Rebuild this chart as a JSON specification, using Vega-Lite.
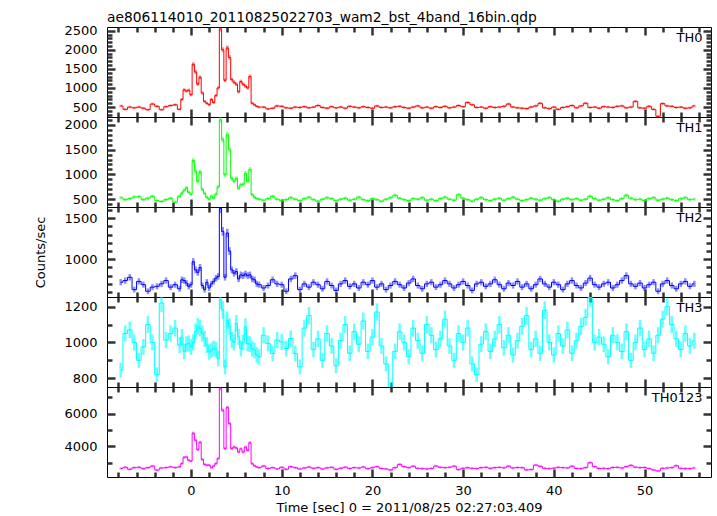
{
"$schema": "https://vega.github.io/schema/vega-lite/v6.json",
"padding": {"left": 34, "top": 10, "right": 0, "bottom": 0},
"spacing": 0,
"bounds": "flush",
"resolve": {"scale": {"size": "independent"}},
"config": {
 "view": {"stroke": "black", "strokeWidth": 1},
 "font": "DejaVu Sans",
 "axis": {"domain": false, "grid": false, "ticks": true, "tickOpacity": 1, "tickColor": "#333333", "tickWidth": 2.5, "labelFont": "DejaVu Sans", "labelFontSize": 13, "labelColor": "black", "titleFont": "DejaVu Sans", "titleFontSize": 13, "titleFontWeight": "normal", "titleColor": "black", "labelFlush": false, "labelOverlap": false, "format": "d"}
},
"datasets": {"lc": [
{"t":-7.75,"a":530,"b":530,"c":720,"d":845,"s":2650},
{"t":-7.25,"a":440,"b":490,"c":740,"d":1050,"s":2720},
{"t":-6.75,"a":500,"b":510,"c":780,"d":1070,"s":2600},
{"t":-6.25,"a":480,"b":545,"c":630,"d":1000,"s":2700},
{"t":-5.75,"a":500,"b":550,"c":730,"d":900,"s":2720},
{"t":-5.25,"a":470,"b":490,"c":690,"d":975,"s":2640},
{"t":-4.75,"a":430,"b":520,"c":610,"d":1100,"s":2700},
{"t":-4.25,"a":580,"b":560,"c":660,"d":1000,"s":2800},
{"t":-3.75,"a":520,"b":470,"c":670,"d":820,"s":2550},
{"t":-3.25,"a":430,"b":455,"c":700,"d":1220,"s":2680},
{"t":-2.75,"a":510,"b":490,"c":740,"d":1013,"s":2700},
{"t":-2.25,"a":540,"b":520,"c":660,"d":1050,"s":2750},
{"t":-1.75,"a":560,"b":440,"c":690,"d":1080,"s":2700},
{"t":-1.25,"a":440,"b":560,"c":640,"d":985,"s":2750},
{"t":-1.0,"a":700,"b":620,"c":750,"d":1030,"s":2950},
{"t":-0.75,"a":950,"b":680,"c":740,"d":950,"s":3330},
{"t":-0.5,"a":920,"b":730,"c":710,"d":990,"s":3350},
{"t":-0.25,"a":940,"b":640,"c":670,"d":995,"s":3150},
{"t":0,"a":820,"b":600,"c":690,"d":975,"s":3100},
{"t":0.25,"a":1620,"b":1280,"c":970,"d":1000,"s":4800},
{"t":0.5,"a":1420,"b":1060,"c":870,"d":1060,"s":4370},
{"t":0.75,"a":1100,"b":860,"c":840,"d":1090,"s":3800},
{"t":1.0,"a":1280,"b":1050,"c":900,"d":1080,"s":4250},
{"t":1.25,"a":870,"b":700,"c":680,"d":1050,"s":3200},
{"t":1.5,"a":650,"b":620,"c":630,"d":1020,"s":2900},
{"t":1.75,"a":600,"b":540,"c":720,"d":985,"s":2850},
{"t":2.0,"a":560,"b":500,"c":650,"d":947,"s":2850},
{"t":2.25,"a":700,"b":560,"c":700,"d":956,"s":2700},
{"t":2.5,"a":620,"b":520,"c":730,"d":966,"s":2800},
{"t":2.75,"a":800,"b":600,"c":770,"d":960,"s":2950},
{"t":3.0,"a":1000,"b":750,"c":790,"d":910,"s":3250},
{"t":3.25,"a":2550,"b":2100,"c":1620,"d":1238,"s":7530},
{"t":3.5,"a":2000,"b":1700,"c":1340,"d":1181,"s":6200},
{"t":3.75,"a":1200,"b":990,"c":780,"d":863,"s":3860},
{"t":4.0,"a":2050,"b":1800,"c":1320,"d":1125,"s":6370},
{"t":4.25,"a":1800,"b":1500,"c":1100,"d":1088,"s":5390},
{"t":4.5,"a":1220,"b":920,"c":870,"d":1013,"s":3860},
{"t":4.75,"a":1150,"b":860,"c":830,"d":1000,"s":3960},
{"t":5.0,"a":1100,"b":920,"c":850,"d":1107,"s":3900},
{"t":5.25,"a":900,"b":720,"c":760,"d":1031,"s":3650},
{"t":5.5,"a":1170,"b":790,"c":810,"d":966,"s":3850},
{"t":5.75,"a":1100,"b":800,"c":800,"d":1000,"s":3650},
{"t":6.0,"a":1050,"b":1020,"c":820,"d":1088,"s":3960},
{"t":6.25,"a":1000,"b":860,"c":800,"d":994,"s":3750},
{"t":6.5,"a":1300,"b":1100,"c":810,"d":990,"s":4220},
{"t":6.75,"a":600,"b":590,"c":760,"d":966,"s":2940},
{"t":7.0,"a":560,"b":540,"c":750,"d":956,"s":2820},
{"t":7.25,"a":520,"b":510,"c":700,"d":930,"s":2740},
{"t":7.5,"a":500,"b":500,"c":690,"d":919,"s":2700},
{"t":8.0,"a":500,"b":480,"c":650,"d":1040,"s":2800},
{"t":8.5,"a":450,"b":510,"c":680,"d":994,"s":2650},
{"t":9.0,"a":470,"b":560,"c":750,"d":938,"s":2700},
{"t":9.5,"a":530,"b":500,"c":700,"d":1013,"s":2620},
{"t":10.0,"a":520,"b":470,"c":690,"d":1003,"s":2720},
{"t":10.5,"a":480,"b":490,"c":610,"d":966,"s":2600},
{"t":11.0,"a":470,"b":530,"c":760,"d":1022,"s":2760},
{"t":11.5,"a":500,"b":500,"c":800,"d":938,"s":2700},
{"t":12.0,"a":490,"b":470,"c":630,"d":863,"s":2620},
{"t":12.5,"a":510,"b":510,"c":700,"d":1080,"s":2680},
{"t":13.0,"a":480,"b":540,"c":660,"d":1150,"s":2740},
{"t":13.5,"a":500,"b":490,"c":720,"d":960,"s":2660},
{"t":14.0,"a":540,"b":460,"c":690,"d":1020,"s":2700},
{"t":14.5,"a":490,"b":500,"c":640,"d":900,"s":2620},
{"t":15.0,"a":470,"b":530,"c":730,"d":1050,"s":2690},
{"t":15.5,"a":510,"b":510,"c":680,"d":980,"s":2720},
{"t":16.0,"a":480,"b":470,"c":620,"d":870,"s":2600},
{"t":16.5,"a":500,"b":500,"c":700,"d":1010,"s":2660},
{"t":17.0,"a":470,"b":520,"c":740,"d":1100,"s":2730},
{"t":17.5,"a":520,"b":480,"c":670,"d":940,"s":2650},
{"t":18.0,"a":500,"b":500,"c":700,"d":1060,"s":2700},
{"t":18.5,"a":480,"b":540,"c":650,"d":990,"s":2680},
{"t":19.0,"a":510,"b":490,"c":720,"d":1120,"s":2740},
{"t":19.5,"a":490,"b":470,"c":690,"d":950,"s":2640},
{"t":20.0,"a":470,"b":510,"c":740,"d":1030,"s":2700},
{"t":20.5,"a":530,"b":490,"c":660,"d":1170,"s":2760},
{"t":21.0,"a":490,"b":460,"c":700,"d":980,"s":2650},
{"t":21.5,"a":500,"b":500,"c":630,"d":880,"s":2620},
{"t":22.0,"a":480,"b":530,"c":680,"d":740,"s":2560},
{"t":22.5,"a":510,"b":580,"c":730,"d":950,"s":2700},
{"t":23.0,"a":520,"b":520,"c":690,"d":1060,"s":2900},
{"t":23.5,"a":490,"b":490,"c":650,"d":1000,"s":2760},
{"t":24.0,"a":470,"b":470,"c":710,"d":920,"s":2700},
{"t":24.5,"a":500,"b":510,"c":760,"d":1080,"s":2790},
{"t":25.0,"a":530,"b":500,"c":680,"d":1010,"s":2660},
{"t":25.5,"a":480,"b":530,"c":640,"d":940,"s":2640},
{"t":26.0,"a":500,"b":480,"c":700,"d":1100,"s":2620},
{"t":26.5,"a":470,"b":500,"c":720,"d":1040,"s":2650},
{"t":27.0,"a":510,"b":470,"c":660,"d":960,"s":2800},
{"t":27.5,"a":490,"b":510,"c":690,"d":1020,"s":2720},
{"t":28.0,"a":520,"b":540,"c":740,"d":1130,"s":2700},
{"t":28.5,"a":480,"b":500,"c":700,"d":980,"s":2720},
{"t":29.0,"a":500,"b":480,"c":650,"d":900,"s":2790},
{"t":29.5,"a":540,"b":590,"c":690,"d":1050,"s":2580},
{"t":30.0,"a":510,"b":520,"c":730,"d":1000,"s":2660},
{"t":30.5,"a":620,"b":490,"c":680,"d":1080,"s":2700},
{"t":31.0,"a":560,"b":460,"c":620,"d":880,"s":2660},
{"t":31.5,"a":490,"b":500,"c":700,"d":820,"s":2640},
{"t":32.0,"a":500,"b":530,"c":720,"d":990,"s":2700},
{"t":32.5,"a":470,"b":490,"c":670,"d":1060,"s":2720},
{"t":33.0,"a":510,"b":470,"c":700,"d":950,"s":2660},
{"t":33.5,"a":490,"b":500,"c":750,"d":1020,"s":2700},
{"t":34.0,"a":500,"b":520,"c":690,"d":1100,"s":2720},
{"t":34.5,"a":520,"b":480,"c":640,"d":970,"s":2690},
{"t":35.0,"a":580,"b":510,"c":710,"d":1040,"s":2790},
{"t":35.5,"a":500,"b":540,"c":680,"d":930,"s":2680},
{"t":36.0,"a":480,"b":500,"c":730,"d":1010,"s":2710},
{"t":36.5,"a":470,"b":470,"c":660,"d":1090,"s":2700},
{"t":37.0,"a":460,"b":490,"c":700,"d":1150,"s":2560},
{"t":37.5,"a":500,"b":520,"c":640,"d":960,"s":2580},
{"t":38.0,"a":530,"b":500,"c":690,"d":1020,"s":2860},
{"t":38.5,"a":600,"b":480,"c":760,"d":940,"s":2780},
{"t":39.0,"a":480,"b":510,"c":700,"d":1180,"s":2660},
{"t":39.5,"a":460,"b":530,"c":660,"d":1000,"s":2640},
{"t":40.0,"a":500,"b":490,"c":720,"d":930,"s":2670},
{"t":40.5,"a":440,"b":460,"c":690,"d":1050,"s":2720},
{"t":41.0,"a":490,"b":500,"c":630,"d":980,"s":2700},
{"t":41.5,"a":510,"b":520,"c":700,"d":1070,"s":2680},
{"t":42.0,"a":540,"b":490,"c":740,"d":940,"s":2790},
{"t":42.5,"a":480,"b":510,"c":680,"d":1010,"s":2650},
{"t":43.0,"a":530,"b":480,"c":650,"d":1090,"s":2640},
{"t":43.5,"a":600,"b":500,"c":710,"d":1140,"s":2700},
{"t":44.0,"a":490,"b":560,"c":770,"d":1250,"s":3000},
{"t":44.5,"a":500,"b":510,"c":690,"d":1000,"s":2760},
{"t":45.0,"a":470,"b":480,"c":660,"d":1030,"s":2650},
{"t":45.5,"a":510,"b":500,"c":700,"d":990,"s":2660},
{"t":46.0,"a":500,"b":530,"c":720,"d":920,"s":2640},
{"t":46.5,"a":490,"b":490,"c":650,"d":1040,"s":2710},
{"t":47.0,"a":520,"b":470,"c":690,"d":1000,"s":2720},
{"t":47.5,"a":530,"b":510,"c":740,"d":950,"s":2680},
{"t":48.0,"a":480,"b":580,"c":800,"d":1060,"s":2760},
{"t":48.5,"a":500,"b":520,"c":700,"d":900,"s":2840},
{"t":49.0,"a":650,"b":490,"c":670,"d":1000,"s":2730},
{"t":49.5,"a":480,"b":500,"c":710,"d":1080,"s":2700},
{"t":50.0,"a":470,"b":470,"c":650,"d":960,"s":2710},
{"t":50.5,"a":520,"b":510,"c":690,"d":1020,"s":2640},
{"t":51.0,"a":440,"b":530,"c":720,"d":940,"s":2560},
{"t":51.5,"a":260,"b":480,"c":610,"d":1040,"s":2500},
{"t":52.0,"a":590,"b":500,"c":700,"d":1130,"s":2660},
{"t":52.5,"a":530,"b":520,"c":740,"d":1200,"s":2680},
{"t":53.0,"a":520,"b":490,"c":680,"d":1100,"s":2700},
{"t":53.5,"a":490,"b":470,"c":640,"d":1020,"s":2820},
{"t":54.0,"a":500,"b":510,"c":700,"d":960,"s":2660},
{"t":54.5,"a":470,"b":530,"c":730,"d":1050,"s":2650},
{"t":55.0,"a":480,"b":490,"c":670,"d":980,"s":2640},
{"t":55.5,"a":530,"b":500,"c":700,"d":1010,"s":2680}
]},
"vconcat": [
{
 "width": 604, "height": 90,
 "data": {"name": "lc"},
 "title": {"text": "ae806114010_20110825022703_wam2_bst_4band_16bin.qdp", "anchor": "start", "frame": "group", "offset": 0, "font": "DejaVu Sans", "fontSize": 13.8, "fontWeight": "normal", "color": "black"},
 "layer": [
  {"mark": {"type": "tick", "orient": "vertical", "thickness": 2.5, "color": "#ff0000", "opacity": 0.45, "clip": true},
   "encoding": {
    "x": {"field": "t", "type": "quantitative", "scale": {"domain": [-9.26, 57.33], "nice": false, "zero": false}, "axis": {"orient": "bottom", "values": [0,10,20,30,40,50], "offset": -8, "tickSize": 8, "tickColor": "#333333", "tickWidth": 2.5, "labels": false, "title": null}},
    "y": {"field": "a", "type": "quantitative", "scale": {"domain": [240, 2597], "nice": false, "zero": false}, "axis": {"orient": "left", "values": [500,1000,1500,2000,2500], "offset": -8, "tickSize": 8, "tickColor": "#333333", "tickWidth": 2.5, "labelPadding": 10, "title": null}},
    "size": {"field": "a", "type": "quantitative", "scale": {"type": "sqrt", "domain": [0, 10000], "range": [0, 10.8]}, "legend": null}}},
  {"mark": {"type": "line", "interpolate": "step", "color": "#ff0000", "strokeWidth": 1, "clip": true},
   "encoding": {
    "x": {"field": "t", "type": "quantitative", "axis": {"orient": "bottom", "values": [-8,-6,-4,-2,2,4,6,8,12,14,16,18,22,24,26,28,32,34,36,38,42,44,46,48,52,54,56], "offset": -5, "tickSize": 5, "tickColor": "#333333", "tickWidth": 2.5, "labels": false, "title": null}},
    "y": {"field": "a", "type": "quantitative", "axis": {"orient": "left", "values": [300,400,600,700,800,900,1100,1200,1300,1400,1600,1700,1800,1900,2100,2200,2300,2400], "offset": -5, "tickSize": 5, "tickColor": "#333333", "tickWidth": 2.5, "labels": false, "title": null}}}},
  {"data": {"values": [{"label": "TH0"}]},
   "mark": {"type": "text", "align": "right", "baseline": "top", "dy": 5, "font": "DejaVu Sans", "fontSize": 13, "color": "black"},
   "encoding": {
    "x": {"datum": 56.4, "type": "quantitative", "axis": {"orient": "top", "values": [0,10,20,30,40,50], "offset": -8, "tickSize": 8, "tickColor": "#333333", "tickWidth": 2.5, "labels": false, "title": null}},
    "y": {"datum": 2597, "type": "quantitative", "axis": {"orient": "right", "values": [500,1000,1500,2000,2500], "offset": -8, "tickSize": 8, "tickColor": "#333333", "tickWidth": 2.5, "labels": false, "title": null}},
    "text": {"field": "label"}}},
  {"mark": {"type": "point", "opacity": 0},
   "encoding": {
    "x": {"field": "t", "type": "quantitative", "axis": {"orient": "top", "values": [-8,-6,-4,-2,2,4,6,8,12,14,16,18,22,24,26,28,32,34,36,38,42,44,46,48,52,54,56], "offset": -5, "tickSize": 5, "tickColor": "#333333", "tickWidth": 2.5, "labels": false, "title": null}},
    "y": {"field": "a", "type": "quantitative", "axis": {"orient": "right", "values": [300,400,600,700,800,900,1100,1200,1300,1400,1600,1700,1800,1900,2100,2200,2300,2400], "offset": -5, "tickSize": 5, "tickColor": "#333333", "tickWidth": 2.5, "labels": false, "title": null}}}}
 ],
 "resolve": {"axis": {"x": "independent", "y": "independent"}}
},
{
 "width": 604, "height": 90,
 "data": {"name": "lc"},
 "layer": [
  {"mark": {"type": "tick", "orient": "vertical", "thickness": 2.5, "color": "#00ff00", "opacity": 0.45, "clip": true},
   "encoding": {
    "x": {"field": "t", "type": "quantitative", "scale": {"domain": [-9.26, 57.33], "nice": false, "zero": false}, "axis": {"orient": "bottom", "values": [0,10,20,30,40,50], "offset": -8, "tickSize": 8, "tickColor": "#333333", "tickWidth": 2.5, "labels": false, "title": null}},
    "y": {"field": "b", "type": "quantitative", "scale": {"domain": [343, 2157], "nice": false, "zero": false}, "axis": {"orient": "left", "values": [500,1000,1500,2000], "offset": -8, "tickSize": 8, "tickColor": "#333333", "tickWidth": 2.5, "labelPadding": 10, "title": null}},
    "size": {"field": "b", "type": "quantitative", "scale": {"type": "sqrt", "domain": [0, 10000], "range": [0, 14]}, "legend": null}}},
  {"mark": {"type": "line", "interpolate": "step", "color": "#00ff00", "strokeWidth": 1, "clip": true},
   "encoding": {
    "x": {"field": "t", "type": "quantitative", "axis": {"orient": "bottom", "values": [-8,-6,-4,-2,2,4,6,8,12,14,16,18,22,24,26,28,32,34,36,38,42,44,46,48,52,54,56], "offset": -5, "tickSize": 5, "tickColor": "#333333", "tickWidth": 2.5, "labels": false, "title": null}},
    "y": {"field": "b", "type": "quantitative", "axis": {"orient": "left", "values": [400,600,700,800,900,1100,1200,1300,1400,1600,1700,1800,1900,2100], "offset": -5, "tickSize": 5, "tickColor": "#333333", "tickWidth": 2.5, "labels": false, "title": null}}}},
  {"data": {"values": [{"label": "TH1"}]},
   "mark": {"type": "text", "align": "right", "baseline": "top", "dy": 5, "font": "DejaVu Sans", "fontSize": 13, "color": "black"},
   "encoding": {
    "x": {"datum": 56.4, "type": "quantitative", "axis": {"orient": "top", "values": [0,10,20,30,40,50], "offset": -8, "tickSize": 8, "tickColor": "#333333", "tickWidth": 2.5, "labels": false, "title": null}},
    "y": {"datum": 2157, "type": "quantitative", "axis": {"orient": "right", "values": [500,1000,1500,2000], "offset": -8, "tickSize": 8, "tickColor": "#333333", "tickWidth": 2.5, "labels": false, "title": null}},
    "text": {"field": "label"}}},
  {"mark": {"type": "point", "opacity": 0},
   "encoding": {
    "x": {"field": "t", "type": "quantitative", "axis": {"orient": "top", "values": [-8,-6,-4,-2,2,4,6,8,12,14,16,18,22,24,26,28,32,34,36,38,42,44,46,48,52,54,56], "offset": -5, "tickSize": 5, "tickColor": "#333333", "tickWidth": 2.5, "labels": false, "title": null}},
    "y": {"field": "b", "type": "quantitative", "axis": {"orient": "right", "values": [400,600,700,800,900,1100,1200,1300,1400,1600,1700,1800,1900,2100], "offset": -5, "tickSize": 5, "tickColor": "#333333", "tickWidth": 2.5, "labels": false, "title": null}}}}
 ],
 "resolve": {"axis": {"x": "independent", "y": "independent"}}
},
{
 "width": 604, "height": 90,
 "data": {"name": "lc"},
 "layer": [
  {"mark": {"type": "tick", "orient": "vertical", "thickness": 2.5, "color": "#0000ff", "opacity": 0.45, "clip": true},
   "encoding": {
    "x": {"field": "t", "type": "quantitative", "scale": {"domain": [-9.26, 57.33], "nice": false, "zero": false}, "axis": {"orient": "bottom", "values": [0,10,20,30,40,50], "offset": -8, "tickSize": 8, "tickColor": "#333333", "tickWidth": 2.5, "labels": false, "title": null}},
    "y": {"field": "c", "type": "quantitative", "scale": {"domain": [540, 1637], "nice": false, "zero": false}, "axis": {"orient": "left", "values": [1000,1500], "offset": -8, "tickSize": 8, "tickColor": "#333333", "tickWidth": 2.5, "labelPadding": 10, "title": "Counts/sec", "titlePadding": 16}},
    "size": {"field": "c", "type": "quantitative", "scale": {"type": "sqrt", "domain": [0, 10000], "range": [0, 23.3]}, "legend": null}}},
  {"mark": {"type": "line", "interpolate": "step", "color": "#0000ff", "strokeWidth": 1, "clip": true},
   "encoding": {
    "x": {"field": "t", "type": "quantitative", "axis": {"orient": "bottom", "values": [-8,-6,-4,-2,2,4,6,8,12,14,16,18,22,24,26,28,32,34,36,38,42,44,46,48,52,54,56], "offset": -5, "tickSize": 5, "tickColor": "#333333", "tickWidth": 2.5, "labels": false, "title": null}},
    "y": {"field": "c", "type": "quantitative", "axis": {"orient": "left", "values": [600,700,800,900,1100,1200,1300,1400,1600], "offset": -5, "tickSize": 5, "tickColor": "#333333", "tickWidth": 2.5, "labels": false, "title": null}}}},
  {"data": {"values": [{"label": "TH2"}]},
   "mark": {"type": "text", "align": "right", "baseline": "top", "dy": 5, "font": "DejaVu Sans", "fontSize": 13, "color": "black"},
   "encoding": {
    "x": {"datum": 56.4, "type": "quantitative", "axis": {"orient": "top", "values": [0,10,20,30,40,50], "offset": -8, "tickSize": 8, "tickColor": "#333333", "tickWidth": 2.5, "labels": false, "title": null}},
    "y": {"datum": 1637, "type": "quantitative", "axis": {"orient": "right", "values": [1000,1500], "offset": -8, "tickSize": 8, "tickColor": "#333333", "tickWidth": 2.5, "labels": false, "title": null}},
    "text": {"field": "label"}}},
  {"mark": {"type": "point", "opacity": 0},
   "encoding": {
    "x": {"field": "t", "type": "quantitative", "axis": {"orient": "top", "values": [-8,-6,-4,-2,2,4,6,8,12,14,16,18,22,24,26,28,32,34,36,38,42,44,46,48,52,54,56], "offset": -5, "tickSize": 5, "tickColor": "#333333", "tickWidth": 2.5, "labels": false, "title": null}},
    "y": {"field": "c", "type": "quantitative", "axis": {"orient": "right", "values": [600,700,800,900,1100,1200,1300,1400,1600], "offset": -5, "tickSize": 5, "tickColor": "#333333", "tickWidth": 2.5, "labels": false, "title": null}}}}
 ],
 "resolve": {"axis": {"x": "independent", "y": "independent"}}
},
{
 "width": 604, "height": 90,
 "data": {"name": "lc"},
 "layer": [
  {"mark": {"type": "tick", "orient": "vertical", "thickness": 2.5, "color": "#00ffff", "opacity": 0.6, "clip": true},
   "encoding": {
    "x": {"field": "t", "type": "quantitative", "scale": {"domain": [-9.26, 57.33], "nice": false, "zero": false}, "axis": {"orient": "bottom", "values": [0,10,20,30,40,50], "offset": -8, "tickSize": 8, "tickColor": "#333333", "tickWidth": 2.5, "labels": false, "title": null}},
    "y": {"field": "d", "type": "quantitative", "scale": {"domain": [751, 1254], "nice": false, "zero": false}, "axis": {"orient": "left", "values": [800,1000,1200], "offset": -8, "tickSize": 8, "tickColor": "#333333", "tickWidth": 2.5, "labelPadding": 10, "title": null}},
    "size": {"field": "d", "type": "quantitative", "scale": {"type": "sqrt", "domain": [0, 10000], "range": [0, 50.7]}, "legend": null}}},
  {"mark": {"type": "line", "interpolate": "step", "color": "#00ffff", "strokeWidth": 1, "clip": true},
   "encoding": {
    "x": {"field": "t", "type": "quantitative", "axis": {"orient": "bottom", "values": [-8,-6,-4,-2,2,4,6,8,12,14,16,18,22,24,26,28,32,34,36,38,42,44,46,48,52,54,56], "offset": -5, "tickSize": 5, "tickColor": "#333333", "tickWidth": 2.5, "labels": false, "title": null}},
    "y": {"field": "d", "type": "quantitative", "axis": {"orient": "left", "values": [900,1100], "offset": -5, "tickSize": 5, "tickColor": "#333333", "tickWidth": 2.5, "labels": false, "title": null}}}},
  {"data": {"values": [{"label": "TH3"}]},
   "mark": {"type": "text", "align": "right", "baseline": "top", "dy": 5, "font": "DejaVu Sans", "fontSize": 13, "color": "black"},
   "encoding": {
    "x": {"datum": 56.4, "type": "quantitative", "axis": {"orient": "top", "values": [0,10,20,30,40,50], "offset": -8, "tickSize": 8, "tickColor": "#333333", "tickWidth": 2.5, "labels": false, "title": null}},
    "y": {"datum": 1254, "type": "quantitative", "axis": {"orient": "right", "values": [800,1000,1200], "offset": -8, "tickSize": 8, "tickColor": "#333333", "tickWidth": 2.5, "labels": false, "title": null}},
    "text": {"field": "label"}}},
  {"mark": {"type": "point", "opacity": 0},
   "encoding": {
    "x": {"field": "t", "type": "quantitative", "axis": {"orient": "top", "values": [-8,-6,-4,-2,2,4,6,8,12,14,16,18,22,24,26,28,32,34,36,38,42,44,46,48,52,54,56], "offset": -5, "tickSize": 5, "tickColor": "#333333", "tickWidth": 2.5, "labels": false, "title": null}},
    "y": {"field": "d", "type": "quantitative", "axis": {"orient": "right", "values": [900,1100], "offset": -5, "tickSize": 5, "tickColor": "#333333", "tickWidth": 2.5, "labels": false, "title": null}}}}
 ],
 "resolve": {"axis": {"x": "independent", "y": "independent"}}
},
{
 "width": 604, "height": 90,
 "data": {"name": "lc"},
 "layer": [
  {"mark": {"type": "tick", "orient": "vertical", "thickness": 2.5, "color": "#ff00ff", "opacity": 0.45, "clip": true},
   "encoding": {
    "x": {"field": "t", "type": "quantitative", "scale": {"domain": [-9.26, 57.33], "nice": false, "zero": false}, "axis": {"orient": "bottom", "values": [0,10,20,30,40,50], "offset": -8, "tickSize": 8, "tickColor": "#333333", "tickWidth": 2.5, "labels": true, "labelPadding": 7.5, "title": "Time [sec] 0 = 2011/08/25 02:27:03.409", "titlePadding": 4}},
    "y": {"field": "s", "type": "quantitative", "scale": {"domain": [2130, 7620], "nice": false, "zero": false}, "axis": {"orient": "left", "values": [4000,6000], "offset": -8, "tickSize": 8, "tickColor": "#333333", "tickWidth": 2.5, "labelPadding": 10, "title": null}},
    "size": {"field": "s", "type": "quantitative", "scale": {"type": "sqrt", "domain": [0, 10000], "range": [0, 4.64]}, "legend": null}}},
  {"mark": {"type": "line", "interpolate": "step", "color": "#ff00ff", "strokeWidth": 1, "clip": true},
   "encoding": {
    "x": {"field": "t", "type": "quantitative", "axis": {"orient": "bottom", "values": [-8,-6,-4,-2,2,4,6,8,12,14,16,18,22,24,26,28,32,34,36,38,42,44,46,48,52,54,56], "offset": -5, "tickSize": 5, "tickColor": "#333333", "tickWidth": 2.5, "labels": false, "title": null}},
    "y": {"field": "s", "type": "quantitative", "axis": {"orient": "left", "values": [3000,5000,7000], "offset": -5, "tickSize": 5, "tickColor": "#333333", "tickWidth": 2.5, "labels": false, "title": null}}}},
  {"data": {"values": [{"label": "TH0123"}]},
   "mark": {"type": "text", "align": "right", "baseline": "top", "dy": 5, "font": "DejaVu Sans", "fontSize": 13, "color": "black"},
   "encoding": {
    "x": {"datum": 56.4, "type": "quantitative", "axis": {"orient": "top", "values": [0,10,20,30,40,50], "offset": -8, "tickSize": 8, "tickColor": "#333333", "tickWidth": 2.5, "labels": false, "title": null}},
    "y": {"datum": 7620, "type": "quantitative", "axis": {"orient": "right", "values": [4000,6000], "offset": -8, "tickSize": 8, "tickColor": "#333333", "tickWidth": 2.5, "labels": false, "title": null}},
    "text": {"field": "label"}}},
  {"mark": {"type": "point", "opacity": 0},
   "encoding": {
    "x": {"field": "t", "type": "quantitative", "axis": {"orient": "top", "values": [-8,-6,-4,-2,2,4,6,8,12,14,16,18,22,24,26,28,32,34,36,38,42,44,46,48,52,54,56], "offset": -5, "tickSize": 5, "tickColor": "#333333", "tickWidth": 2.5, "labels": false, "title": null}},
    "y": {"field": "s", "type": "quantitative", "axis": {"orient": "right", "values": [3000,5000,7000], "offset": -5, "tickSize": 5, "tickColor": "#333333", "tickWidth": 2.5, "labels": false, "title": null}}}}
 ],
 "resolve": {"axis": {"x": "independent", "y": "independent"}}
}
]
}
